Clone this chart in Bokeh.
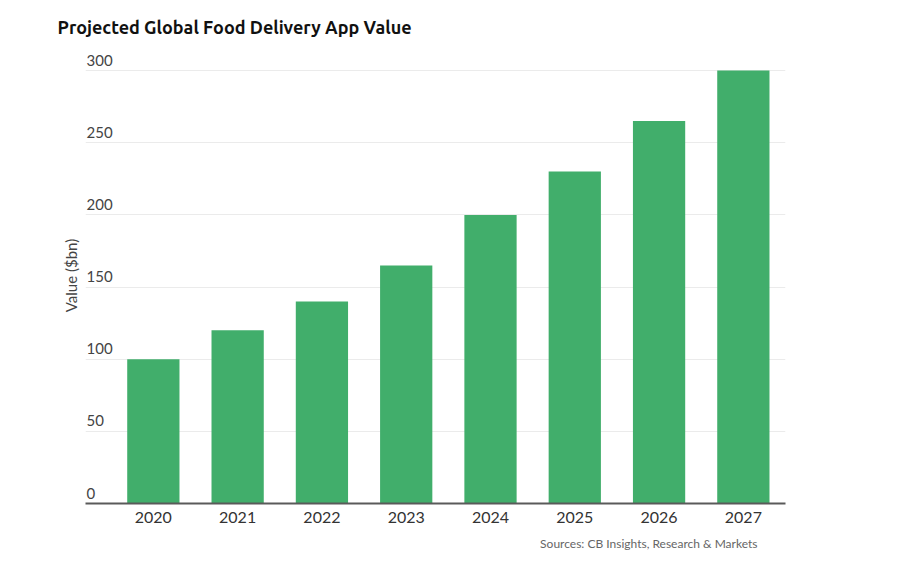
from bokeh.plotting import figure
from bokeh.models import Range1d, FixedTicker, Title, ColumnDataSource
from bokeh.core.properties import value
from bokeh.embed import file_html
from bokeh.resources import INLINE

years = ["2020", "2021", "2022", "2023", "2024", "2025", "2026", "2027"]
values = [100, 120, 140, 165, 200, 230, 265, 300]
y_ticks = [0, 50, 100, 150, 200, 250, 300]
title_text = "Projected Global Food Delivery App Value"
y_label = "Value ($bn)"
source_text = "Sources: CB Insights, Research & Markets"

xpos = [i + 0.5 for i in range(len(years))]
x_start = -0.305

p = figure(width=883, height=559, output_backend="svg", toolbar_location=None,
           x_range=Range1d(x_start, len(years)), y_range=Range1d(0, 316),
           min_border_left=85, min_border_right=98, min_border_top=47,
           min_border_bottom=47)
p.outline_line_color = None
p.background_fill_color = "white"
p.border_fill_color = "white"

src = ColumnDataSource(dict(x=xpos, top=values, year=years))
p.vbar(x="x", top="top", bottom=0, width=0.62, source=src,
       fill_color="#41ae6b", line_color=None)

# grid
p.xgrid.visible = False
p.ygrid.ticker = FixedTicker(ticks=y_ticks)
p.ygrid.grid_line_color = "#ebebeb"
p.ygrid.grid_line_width = 1

# x axis
p.xaxis.ticker = FixedTicker(ticks=xpos)
p.xaxis.major_label_overrides = {x: y for x, y in zip(xpos, years)}
p.xaxis.major_tick_line_color = None
p.xaxis.minor_tick_line_color = None
p.xaxis.axis_line_color = "#5a5a5a"
p.xaxis.axis_line_width = 2
p.xaxis.major_label_text_font = "Lato"
p.xaxis.major_label_text_font_size = "16px"
p.xaxis.major_label_text_font_style = "normal"
p.xaxis.major_label_text_color = "#333333"
p.xaxis.major_label_standoff = 2

# y axis: only the title
p.yaxis.ticker = FixedTicker(ticks=y_ticks)
p.yaxis.major_label_text_font_size = "0px"
p.yaxis.major_label_standoff = 0
p.yaxis.major_tick_line_color = None
p.yaxis.minor_tick_line_color = None
p.yaxis.axis_line_color = None
p.yaxis.axis_label = y_label
p.yaxis.axis_label_text_font = "Lato"
p.yaxis.axis_label_text_font_size = "15px"
p.yaxis.axis_label_text_font_style = "normal"
p.yaxis.axis_label_text_color = "#444444"
p.yaxis.axis_label_standoff = 0

# y tick labels inside plot, above gridlines
tsrc = ColumnDataSource(dict(x=[x_start] * len(y_ticks), y=y_ticks,
                             t=[str(v) for v in y_ticks]))
p.text(x="x", y="y", text="t", source=tsrc, text_font=value("Lato"),
       text_font_size="15px", text_color="#444444", text_baseline="bottom",
       text_align="left", x_offset=1, y_offset=-5)

p.add_layout(Title(text=title_text, align="left", offset=-28, standoff=22,
                   text_font="Ubuntu, Noto Sans", text_font_size="18px",
                   text_font_style="bold", text_color="#111111"), "above")
p.add_layout(Title(text=source_text, align="right", offset=28, standoff=17,
                   text_font="Lato", text_font_size="12px",
                   text_font_style="normal", text_color="#666666"), "below")

open("out.html", "w").write(file_html(p, INLINE))
